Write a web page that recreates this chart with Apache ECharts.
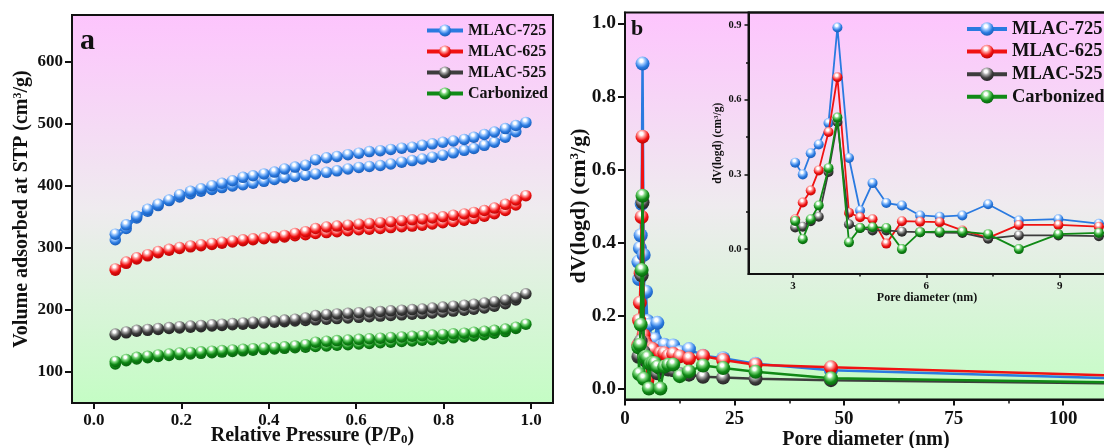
<!DOCTYPE html>
<html>
<head>
<meta charset="utf-8">
<script src="https://cdn.jsdelivr.net/npm/echarts@6/dist/echarts.min.js"></script>
<style>
  html, body { margin: 0; padding: 0; background: #ffffff; }
  #chart { width: 1104px; height: 448px; }
</style>
</head>
<body>
<div id="chart"></div>
<script>
// ---------- Panel a: N2 adsorption / desorption isotherms ----------
const relPressureAds = [0.049,0.074,0.098,0.123,0.147,0.172,0.196,0.221,0.245,0.270,0.293,0.317,0.341,0.364,0.389,0.413,0.436,0.460,0.484,0.507,0.532,0.556,0.581,0.606,0.630,0.655,0.679,0.704,0.728,0.751,0.774,0.798,0.822,0.847,0.869,0.893,0.916,0.941,0.965,0.988];
const relPressureDes = [0.965,0.941,0.916,0.893,0.869,0.847,0.822,0.798,0.774,0.751,0.728,0.704,0.679,0.655,0.630,0.606,0.581,0.556,0.532,0.507,0.484,0.460,0.436,0.413,0.389,0.364,0.341,0.317,0.293,0.270,0.245,0.221,0.196,0.172,0.147,0.123,0.098,0.074,0.049];

const ads725 = [313,331,348,359,368,376,382,387,391,394,397,399.5,401.5,404,407,410,413,415,417,419,421.5,424,427,429.5,431,432.5,435,438,440.5,443,446,449,453,457,460,465,470,478,487,502];
const des725 = [497,492,486.5,482.5,478,474.5,472,470,467.5,465,462,460.5,458.5,456.5,455,452.5,450,447,445,442,433,430,427,422,419,416,413.5,408,404,400,395,391,385.5,377,370,362,351,337,322];
const ads625 = [264,275,282,287,292,296,299,301.5,303.5,305.5,307.5,309.5,311.5,313,314.5,316,317.5,319.5,321,323,324.5,326,327.5,329,330,331,332.5,334,335,336.5,338.5,340.5,342.5,344.5,347,351,355,360,369,384];
const des625 = [377,370,364,360,357,354.5,352.5,350,348,346.5,345,343.5,342,340.5,339,338,336.5,335,333.5,331,326,323,320,318,316,314.5,313,311,309,307,305,303,300.5,297.5,294,289,284,277,266];
const ads525 = [160,163,165.5,167,168.5,170,171,172,173,174,175,176,177,178,179,180,181,182,183,184,185,186,187,188,189,190,191,192,193,194,195,196.5,198,199.5,201,203,206,210,216,226];
const des525 = [220,216,213,211,209,207.5,206,204.5,203,201.5,200.5,199.5,198.5,197.5,196.5,195.5,194.5,193.5,192.5,191,187,185,183.5,182,181,180,179,178,177,176,175,174,173,171.5,170,168.5,167,164.5,161];
const adsCarb = [113,118,121,123,125,126.5,128,129,130,131,132,133,134,135,136,137,138,139,140,141,142,143,144,145,146,147,148,149,150,151,152,153.5,155,156.5,158,160,162.5,165,170,177];
const desCarb = [172,169,167,165.5,164,162.5,161.5,160.5,159.5,158.5,157.5,156.5,155.5,154.5,153.5,152.5,151.5,150.5,149.5,148,144,142,140.5,139.5,138.5,137.5,136.5,135.5,134.5,133.5,132.5,131.5,130.5,129,127.5,125.5,123.5,120,117];

// ---------- Panel b: pore size distribution ----------
const poreDiameter = [3.05,3.22,3.40,3.58,3.80,4.00,4.26,4.51,4.79,5.10,5.45,5.86,6.30,6.81,7.39,8.08,8.97,9.88,11.0,12.5,14.6,17.8,22.4,29.8,47.0,122];
const psd725  = [0.347,0.300,0.385,0.420,0.506,0.890,0.366,0.155,0.265,0.185,0.175,0.135,0.130,0.135,0.180,0.115,0.120,0.102,0.118,0.100,0.108,0.090,0.083,0.068,0.050,0.025];
const psd625  = [0.120,0.187,0.235,0.316,0.470,0.690,0.146,0.128,0.120,0.022,0.112,0.110,0.108,0.075,0.045,0.097,0.097,0.090,0.095,0.088,0.082,0.089,0.078,0.065,0.058,0.032];
const psd525  = [0.087,0.090,0.112,0.130,0.310,0.510,0.100,0.085,0.075,0.075,0.070,0.068,0.066,0.065,0.042,0.055,0.055,0.052,0.050,0.040,0.038,0.032,0.030,0.027,0.023,0.013];
const psdCarb = [0.113,0.040,0.120,0.175,0.325,0.528,0.027,0.085,0.088,0.085,0.000,0.068,0.070,0.070,0.060,0.000,0.060,0.065,0.066,0.034,0.047,0.063,0.056,0.046,0.028,0.015];

// ---------- Names and tick labels ----------
const sampleNames = ['MLAC-725', 'MLAC-625', 'MLAC-525', 'Carbonized'];
const isoXTicks = [0, 0.2, 0.4, 0.6, 0.8, 1.0];
const isoYTicks = [100, 200, 300, 400, 500, 600];
const psdXTicks = [0, 25, 50, 75, 100];
const psdYTicks = [0, 0.2, 0.4, 0.6, 0.8, 1.0];
const insetXTicks = [3, 6, 9];
const insetXMinor = [4.5, 7.5];
const insetYTicks = [0, 0.3, 0.6, 0.9];
const insetYMinor = [0.15, 0.45, 0.75];

// ---------- Styling ----------
const FONT = 'Liberation Serif';
const INK = '#111111';
const baseColors  = ['#2a7ae0', '#f01212', '#3d3d3d', '#108a16'];
const lightColors = ['#9cc8ff', '#ff9a9a', '#a8a8a8', '#7fd87f'];
const darkColors  = ['#1552a8', '#a80000', '#1a1a1a', '#05560a'];

const isoAds = [ads725, ads625, ads525, adsCarb];
const isoDes = [des725, des625, des525, desCarb];
const psdAll = [psd725, psd625, psd525, psdCarb];

function sphere(i) {
  return {
    type: 'radial', x: 0.42, y: 0.3, r: 0.78,
    colorStops: [
      { offset: 0, color: '#ffffff' },
      { offset: 0.14, color: '#ffffff' },
      { offset: 0.32, color: lightColors[i] },
      { offset: 0.62, color: baseColors[i] },
      { offset: 1, color: darkColors[i] }
    ]
  };
}

function plotBackground() {
  return {
    type: 'linear', x: 0, y: 0, x2: 0, y2: 1,
    colorStops: [
      { offset: 0, color: '#fdc4fd' },
      { offset: 0.5, color: '#efebef' },
      { offset: 1, color: '#c4fdc4' }
    ]
  };
}

const pairs = (xs, ys) => xs.map((x, k) => [x, ys[k]]);

function richName(size) {
  return {
    fontFamily: FONT, fontWeight: 'bold', fontSize: size, color: INK,
    rich: {
      t: { fontFamily: FONT, fontWeight: 'bold', fontSize: size, color: INK },
      sup: { fontFamily: FONT, fontWeight: 'bold', fontSize: Math.round(size * 0.6), lineHeight: Math.round(size * 0.6), verticalAlign: 'top', color: INK },
      sub: { fontFamily: FONT, fontWeight: 'bold', fontSize: Math.round(size * 0.65), lineHeight: Math.round(size * 0.65), verticalAlign: 'bottom', padding: [Math.round(size * 0.62), 0, 0, 0], color: INK }
    }
  };
}

function labelStyle(size, ticks, fmt, margin) {
  return {
    customValues: ticks, formatter: fmt, margin: margin,
    fontFamily: FONT, fontWeight: 'bold', fontSize: size, color: INK
  };
}

const axisLine = { onZero: false, lineStyle: { color: INK, width: 2 } };
const tick = (vals, len, w) => ({ customValues: vals, length: len, lineStyle: { color: INK, width: w } });
const fix1 = v => v.toFixed(1);

// ---------- Series ----------
const series = [];
for (let i = 0; i < 4; i++) {
  series.push({
    name: sampleNames[i], type: 'line', xAxisIndex: 0, yAxisIndex: 0,
    data: pairs(relPressureAds, isoAds[i]).concat(pairs(relPressureDes, isoDes[i])),
    symbol: 'circle', symbolSize: 11.5, showAllSymbol: true, clip: true,
    lineStyle: { color: baseColors[i], width: 2 },
    itemStyle: { color: sphere(i) },
    z: 3 + i
  });
}
for (let i = 0; i < 4; i++) {
  series.push({
    name: sampleNames[i], type: 'line', xAxisIndex: 1, yAxisIndex: 1,
    data: pairs(poreDiameter, psdAll[i]),
    symbol: 'circle', symbolSize: 14, showAllSymbol: true, clip: true,
    lineStyle: { color: baseColors[i], width: 2.5 },
    itemStyle: { color: sphere(i) },
    z: 3 + i
  });
}
for (let i = 0; i < 4; i++) {
  series.push({
    name: sampleNames[i], type: 'line', xAxisIndex: 2, yAxisIndex: 2,
    data: pairs(poreDiameter, psdAll[i]),
    symbol: 'circle', symbolSize: 10, showAllSymbol: true, clip: true,
    lineStyle: { color: baseColors[i], width: 1.8 },
    itemStyle: { color: sphere(i) },
    z: 10 + i
  });
}

const gridCommon = { outerBoundsMode: 'none', containLabel: false, show: true, borderColor: INK, borderWidth: 2 };

const option = {
  animation: false,
  backgroundColor: '#ffffff',
  grid: [
    Object.assign({ left: 72, top: 15, width: 481, height: 388, backgroundColor: plotBackground() }, gridCommon),
    Object.assign({ left: 625, top: 12.5, width: 482, height: 387, backgroundColor: plotBackground() }, gridCommon),
    Object.assign({ left: 748.5, top: 12.5, width: 357, height: 261.5, backgroundColor: 'transparent', z: 5 }, gridCommon)
  ],
  xAxis: [
    {
      gridIndex: 0, type: 'value', min: -0.05, max: 1.05, nameMoveOverlap: false,
      splitLine: { show: false }, axisLine: axisLine,
      axisTick: tick(isoXTicks, 6, 2),
      axisLabel: labelStyle(17, isoXTicks, fix1, 9),
      name: '{t|Relative Pressure (P/P}{sub|0}{t|)}', nameLocation: 'middle', nameGap: 23,
      nameTextStyle: richName(20)
    },
    {
      gridIndex: 1, type: 'value', min: 0, max: 110, interval: 25, nameMoveOverlap: false,
      splitLine: { show: false }, axisLine: axisLine,
      axisTick: { length: 6, lineStyle: { color: INK, width: 2 } },
      minorTick: { show: true, splitNumber: 2, length: 4, lineStyle: { color: INK, width: 1.5 } },
      axisLabel: labelStyle(19, psdXTicks, v => String(v), 10),
      name: 'Pore diameter (nm)', nameLocation: 'middle', nameGap: 30,
      nameTextStyle: { fontFamily: FONT, fontWeight: 'bold', fontSize: 20, color: INK }
    },
    {
      gridIndex: 2, type: 'value', min: 2, max: 10.03, position: 'bottom', nameMoveOverlap: false,
      splitLine: { show: false }, axisLine: axisLine,
      axisTick: tick(insetXTicks, 4, 1.5),
      axisLabel: labelStyle(11, insetXTicks, v => String(v), 7),
      name: 'Pore diameter (nm)', nameLocation: 'middle', nameGap: 18,
      nameTextStyle: { fontFamily: FONT, fontWeight: 'bold', fontSize: 12, color: INK }
    },
    {
      gridIndex: 2, type: 'value', min: 2, max: 10.03, position: 'bottom',
      splitLine: { show: false }, axisLine: { show: false, onZero: false },
      axisTick: tick(insetXMinor, 2.5, 1.5),
      axisLabel: { show: false }
    }
  ],
  yAxis: [
    {
      gridIndex: 0, type: 'value', min: 50, max: 675, nameMoveOverlap: false,
      splitLine: { show: false }, axisLine: axisLine,
      axisTick: tick(isoYTicks, 7, 2),
      axisLabel: labelStyle(17, isoYTicks, v => String(v), 9),
      name: '{t|Volume adsorbed at STP (cm}{sup|3}{t|/g)}', nameLocation: 'middle', nameGap: 40,
      nameTextStyle: richName(20)
    },
    {
      gridIndex: 1, type: 'value', min: -0.03, max: 1.03, nameMoveOverlap: false,
      splitLine: { show: false }, axisLine: axisLine,
      axisTick: tick(psdYTicks, 7, 2),
      axisLabel: labelStyle(19.5, psdYTicks, fix1, 9),
      name: '{t|dV(logd) (cm}{sup|3}{t|/g)}', nameLocation: 'middle', nameGap: 35,
      nameTextStyle: richName(22)
    },
    {
      gridIndex: 2, type: 'value', min: -0.1, max: 0.95, position: 'left', nameMoveOverlap: false,
      splitLine: { show: false }, axisLine: axisLine,
      axisTick: tick(insetYTicks, 4, 1.5),
      axisLabel: labelStyle(10.5, insetYTicks, fix1, 7),
      name: '{t|dV(logd) (cm}{sup|3}{t|/g)}', nameLocation: 'middle', nameGap: 24,
      nameTextStyle: richName(11.5)
    },
    {
      gridIndex: 2, type: 'value', min: -0.1, max: 0.95, position: 'left',
      splitLine: { show: false }, axisLine: { show: false, onZero: false },
      axisTick: tick(insetYMinor, 2.5, 1.5),
      axisLabel: { show: false }
    }
  ],
  legend: [
    {
      data: sampleNames, orient: 'vertical', left: 425, top: 22.5, padding: 0,
      itemWidth: 36, itemHeight: 15, itemGap: 5,
      lineStyle: { width: 4 },
      textStyle: { fontFamily: FONT, fontWeight: 'bold', fontSize: 16, color: INK }
    },
    {
      data: sampleNames, orient: 'vertical', left: 965, top: 19.5, padding: 0,
      itemWidth: 40, itemHeight: 17, itemGap: 3.6,
      lineStyle: { width: 4 },
      textStyle: { fontFamily: FONT, fontWeight: 'bold', fontSize: 18.5, color: INK }
    }
  ],
  graphic: [
    { type: 'text', left: 80, top: 26, z: 100, style: { text: 'a', font: 'bold 30px "Liberation Serif"', fill: INK } },
    { type: 'text', left: 631, top: 18, z: 100, style: { text: 'b', font: 'bold 22px "Liberation Serif"', fill: INK } }
  ],
  series: series
};

const chart = echarts.init(document.getElementById('chart'), null, { renderer: 'canvas' });
chart.setOption(option);
</script>
</body>
</html>
